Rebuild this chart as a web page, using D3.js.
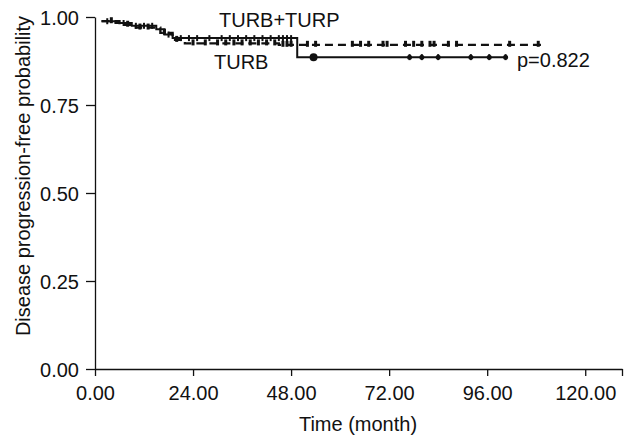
<!DOCTYPE html>
<html>
<head>
<meta charset="utf-8">
<script src="https://cdn.jsdelivr.net/npm/d3@7"></script>
<style>
body { margin: 0; background: #fff; }
text { font-family: "Liberation Sans", Arial, sans-serif; fill: #111; }
</style>
</head>
<body>
<svg id="chart"></svg>
<script>
// tick labels
var xTicks = [0, 24, 48, 72, 96, 120];
var yTicks = [0, 0.25, 0.5, 0.75, 1];

// solid curve (steps: time, survival)
var solidTimes = [1.6, 5, 9, 15, 17, 19, 49.5];
var solidSurv  = [0.988, 0.983, 0.975, 0.965, 0.95, 0.94, 0.886];
var solidEnd = 101;
var solidCensor = [3, 7, 10, 12, 14, 18, 21, 23, 25, 28, 31, 33, 35, 37, 39, 41, 43, 45, 46, 47, 48,
                   53.5, 77, 80, 84, 92, 96.5, 100.5];

// dashed curve
var dashTimes = [1.6, 6, 10, 16, 19, 22, 45];
var dashSurv  = [0.988, 0.978, 0.97, 0.955, 0.935, 0.925, 0.921];
var dashEnd = 109.5;
var dashCensor = [4, 8, 11, 13, 17, 20, 24, 27, 30, 32, 34, 36, 38, 40, 42, 44, 46, 47, 48,
                  52, 54, 63, 65, 67, 70.5, 71.5, 76, 78, 80, 82, 83, 86.5, 88.5, 101.5, 108.5];

function init() {
    var w = 631, h = 440;
    var svg = d3.select("#chart").attr("width", w).attr("height", h);

    var xScale = d3.scaleLinear().domain([0, 129]).range([95, 622]);
    var yScale = d3.scaleLinear().domain([0, 1]).range([369, 17]);

    // axes
    var xAxis = d3.axisBottom(xScale).tickValues(xTicks.concat([129]))
        .tickSize(7).tickSizeOuter(0)
        .tickFormat(function(d) { return d === 129 ? "" : d.toFixed(2); });
    var gx = svg.append("g").attr("transform", "translate(0,369)").call(xAxis);

    var yAxis = d3.axisLeft(yScale).tickValues(yTicks)
        .tickSize(9).tickSizeOuter(0)
        .tickFormat(function(d) { return d.toFixed(2); });
    var gy = svg.append("g").attr("transform", "translate(95,0)").call(yAxis);

    [gx, gy].forEach(function(g) {
        g.select(".domain").attr("stroke", "#111").attr("stroke-width", 1.3);
        g.selectAll(".tick line").attr("stroke", "#111").attr("stroke-width", 1.3);
        g.selectAll("text").attr("font-size", "20px").attr("fill", "#111")
            .attr("font-family", "Liberation Sans, Arial, sans-serif");
    });
    gx.selectAll("text").attr("dy", "1.05em");
    gy.selectAll("text").attr("x", -16).attr("dy", "0.36em");

    // axis titles
    svg.append("text").attr("x", 358).attr("y", 431).attr("text-anchor", "middle")
        .attr("font-size", "20px").text("Time (month)");
    svg.append("text").attr("transform", "translate(30,176) rotate(-90)")
        .attr("text-anchor", "middle").attr("font-size", "20px")
        .text("Disease progression-free probability");

    function survAt(times, surv, t) {
        var i = d3.bisectRight(times, t) - 1;
        return surv[Math.max(i, 0)];
    }

    var line = d3.line()
        .x(function(d) { return xScale(d[0]); })
        .y(function(d) { return yScale(d[1]); })
        .curve(d3.curveStepAfter);

    function pts(times, surv, end) {
        var p = times.map(function(t, i) { return [t, surv[i]]; });
        p.push([end, surv[surv.length - 1]]);
        return p;
    }

    // dashed curve
    svg.append("path").datum(pts(dashTimes, dashSurv, dashEnd))
        .attr("d", line).attr("fill", "none").attr("stroke", "#111")
        .attr("stroke-width", 2.3).attr("stroke-dasharray", "8,5");
    svg.selectAll(".dc").data(dashCensor).enter().append("line")
        .attr("x1", function(d) { return xScale(d); })
        .attr("x2", function(d) { return xScale(d); })
        .attr("y1", function(d) { return yScale(survAt(dashTimes, dashSurv, d)) - 4; })
        .attr("y2", function(d) { return yScale(survAt(dashTimes, dashSurv, d)) + 2; })
        .attr("stroke", "#111").attr("stroke-width", 3);

    // solid curve
    svg.append("path").datum(pts(solidTimes, solidSurv, solidEnd))
        .attr("d", line).attr("fill", "none").attr("stroke", "#111")
        .attr("stroke-width", 2);
    svg.selectAll(".sc").data(solidCensor).enter().append("line")
        .attr("x1", function(d) { return xScale(d); })
        .attr("x2", function(d) { return xScale(d); })
        .attr("y1", function(d) { return yScale(survAt(solidTimes, solidSurv, d)) - 3; })
        .attr("y2", function(d) { return yScale(survAt(solidTimes, solidSurv, d)) + 3; })
        .attr("stroke", "#111").attr("stroke-width", 2);
    svg.selectAll(".sd").data(solidCensor.filter(function(d) { return d > 50; })).enter()
        .append("circle")
        .attr("cx", function(d) { return xScale(d); })
        .attr("cy", function(d) { return yScale(survAt(solidTimes, solidSurv, d)); })
        .attr("r", function(d) { return d < 60 ? 4 : 2.5; })
        .attr("fill", "#111");

    // annotations
    svg.append("text").attr("x", 219).attr("y", 27).attr("font-size", "20px").text("TURB+TURP");
    svg.append("text").attr("x", 214).attr("y", 69).attr("font-size", "20px").text("TURB");
    svg.append("text").attr("x", 517).attr("y", 67).attr("font-size", "20px").text("p=0.822");
}
window.onload = init;
</script>
</body>
</html>
